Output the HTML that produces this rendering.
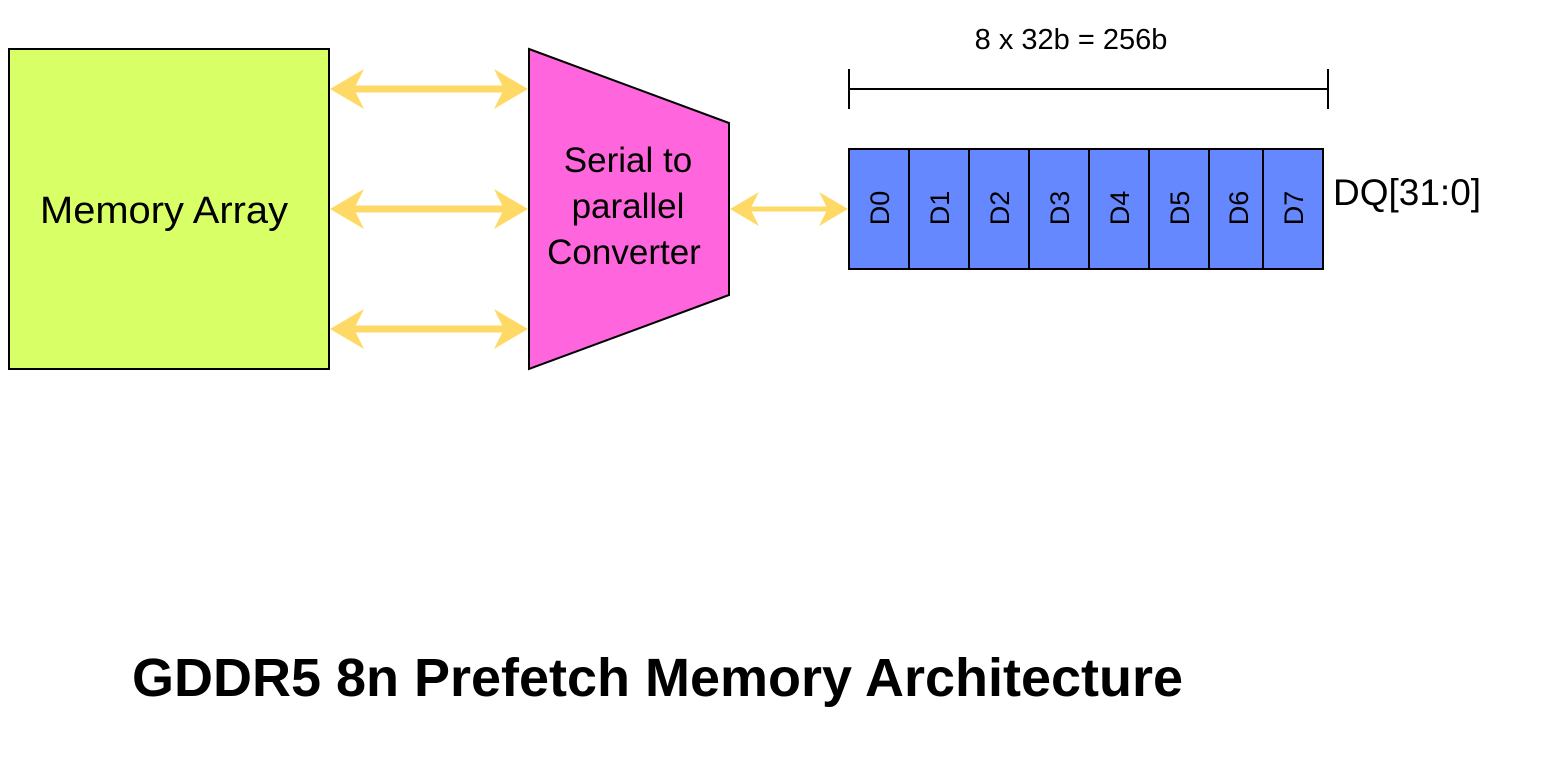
<!DOCTYPE html>
<html><head><style>body{margin:0;background:#fff}svg{display:block}</style></head><body>
<svg width="1560" height="770" xmlns="http://www.w3.org/2000/svg" font-family="Liberation Sans, sans-serif">
<defs>
<g id="ah"><path d="M0,0 L-34,-20 L-24,0 L-34,20 Z" fill="#FFD966"/></g>
</defs>
<rect x="9" y="49" width="320" height="320" fill="#D9FF66" stroke="#000" stroke-width="2"/>
<text x="164" y="223" font-size="38" text-anchor="middle" textLength="248" lengthAdjust="spacingAndGlyphs">Memory Array</text>
<polygon points="529,49 729,123 729,295 529,369" fill="#FF66DD" stroke="#000" stroke-width="2"/>
<text font-size="35" text-anchor="middle"><tspan x="628" y="172">Serial to</tspan><tspan x="628" y="218">parallel</tspan><tspan x="624" y="264">Converter</tspan></text>
<g stroke="#FFD966" stroke-width="7">
<line x1="345" y1="89" x2="512" y2="89"/><line x1="345" y1="209" x2="512" y2="209"/><line x1="345" y1="329" x2="512" y2="329"/>
<line x1="745" y1="209" x2="833" y2="209" stroke-width="5"/>
</g>
<g>
<use href="#ah" transform="translate(528,89)"/><use href="#ah" transform="translate(330,89) scale(-1,1)"/>
<use href="#ah" transform="translate(528,209)"/><use href="#ah" transform="translate(330,209) scale(-1,1)"/>
<use href="#ah" transform="translate(528,329)"/><use href="#ah" transform="translate(330,329) scale(-1,1)"/>
<use href="#ah" transform="translate(848,209) scale(0.85)"/><use href="#ah" transform="translate(730,209) scale(-0.85,0.85)"/>
</g>
<g stroke="#000" stroke-width="2">
<line x1="849" y1="69" x2="849" y2="109"/><line x1="1328" y1="69" x2="1328" y2="109"/><line x1="849" y1="89" x2="1328" y2="89"/>
</g>
<text x="1071" y="49" font-size="29" text-anchor="middle">8 x 32b = 256b</text>
<g fill="#6688FF" stroke="#000" stroke-width="2">
<rect x="849" y="149" width="60" height="120"/><rect x="909" y="149" width="60" height="120"/>
<rect x="969" y="149" width="60" height="120"/><rect x="1029" y="149" width="60" height="120"/>
<rect x="1089" y="149" width="60" height="120"/><rect x="1149" y="149" width="60" height="120"/>
<rect x="1209" y="149" width="54" height="120"/><rect x="1263" y="149" width="60" height="120"/>
</g>
<g font-size="27" text-anchor="middle">
<text transform="translate(889,208) rotate(-90)">D0</text>
<text transform="translate(949,208) rotate(-90)">D1</text>
<text transform="translate(1009,208) rotate(-90)">D2</text>
<text transform="translate(1069,208) rotate(-90)">D3</text>
<text transform="translate(1129,208) rotate(-90)">D4</text>
<text transform="translate(1189,208) rotate(-90)">D5</text>
<text transform="translate(1248,208) rotate(-90)">D6</text>
<text transform="translate(1303,208) rotate(-90)">D7</text>
</g>
<text x="1333" y="205" font-size="37">DQ[31:0]</text>
<text x="132" y="696" font-size="54" font-weight="bold" textLength="1051" lengthAdjust="spacingAndGlyphs">GDDR5 8n Prefetch Memory Architecture</text>
</svg>
</body></html>
